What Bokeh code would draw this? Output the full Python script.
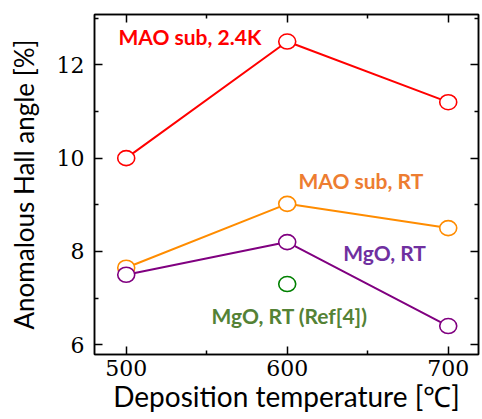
from bokeh.plotting import figure
from bokeh.models import LinearAxis, Range1d, FixedTicker, ColumnDataSource
from bokeh.core.properties import value
from bokeh.embed import file_html
from bokeh.resources import INLINE

# ---- data ----
temps = [500, 600, 700]
mao_24k = [10.0, 12.5, 11.2]
mao_rt = [7.65, 9.02, 8.5]
mgo_rt = [7.5, 8.2, 6.4]
ref4_temp = [600]
ref4_val = [7.3]

labels = ["MAO sub, 2.4K", "MAO sub, RT", "MgO, RT", "MgO, RT (Ref[4])"]
x_ticks = [500, 600, 700]
x_minor = [550, 650]
y_ticks = [6, 8, 10, 12]
y_minor = [7, 9, 11, 13]

p = figure(width=482, height=419, output_backend="svg", toolbar_location=None,
           x_range=Range1d(480.3, 718.8), y_range=Range1d(5.79, 13.08),
           min_border_left=94, min_border_right=4, min_border_top=14, min_border_bottom=65)
p.xgrid.visible = False
p.ygrid.visible = False
p.outline_line_color = "black"
p.outline_line_width = 1.5
p.background_fill_color = "white"
p.border_fill_color = "white"

def style_axis(ax, show_labels):
    ax.axis_line_color = "black"
    ax.axis_line_width = 1.5
    ax.major_tick_in = 8
    ax.major_tick_out = 0
    ax.minor_tick_in = 4
    ax.minor_tick_out = 0
    ax.major_tick_line_width = 1.5
    ax.minor_tick_line_width = 1.5
    if show_labels:
        ax.major_label_text_font = "DejaVu Serif"
        ax.major_label_text_font_size = "22px"
        ax.major_label_text_color = "black"
        ax.axis_label_text_font = "Lato"
        ax.axis_label_text_font_style = "normal"
        ax.axis_label_text_color = "black"

p.xaxis.ticker = FixedTicker(ticks=x_ticks, minor_ticks=x_minor)
p.yaxis.ticker = FixedTicker(ticks=y_ticks, minor_ticks=y_minor)
p.xaxis.axis_label = "Deposition temperature [℃]"
p.yaxis.axis_label = "Anomalous Hall angle [%]"
style_axis(p.xaxis[0], True)
style_axis(p.yaxis[0], True)
p.xaxis.major_label_standoff = 5
p.xaxis.axis_label_standoff = 0
p.xaxis.axis_label_text_font_size = "28px"
p.yaxis.major_label_standoff = 10
p.yaxis.axis_label_standoff = 14
p.yaxis.axis_label_text_font_size = "26px"

top = LinearAxis(ticker=FixedTicker(ticks=x_ticks, minor_ticks=x_minor),
                 major_label_overrides={t: "" for t in x_ticks})
right = LinearAxis(ticker=FixedTicker(ticks=y_ticks, minor_ticks=y_minor),
                   major_label_overrides={t: "" for t in y_ticks})
style_axis(top, False)
style_axis(right, False)
top.major_label_standoff = 0
right.major_label_standoff = 0
p.add_layout(top, "above")
p.add_layout(right, "right")

series = [
    (mao_24k, "#FF0000"),
    (mao_rt, "#FF8C00"),
    (mgo_rt, "#800080"),
]
for vals, col in series:
    src = ColumnDataSource(dict(x=temps, y=vals))
    p.line("x", "y", source=src, line_color=col, line_width=2)
    p.ellipse("x", "y", source=src, width=17, height=15, width_units="screen",
              height_units="screen", fill_color="white", line_color=col, line_width=1.6)

p.ellipse(ref4_temp, ref4_val, width=17, height=15, width_units="screen",
          height_units="screen", fill_color="white", line_color="#008000", line_width=1.6)

# label positions (data coords)
lab_x = [495.2, 607.0, 634.8, 553.0]
lab_y = [12.61, 9.52, 7.97, 6.63]
lab_c = ["#FF0000", "#ED7D31", "#7030A0", "#548235"]
for t, lx, ly, lc in zip(labels, lab_x, lab_y, lab_c):
    p.text([lx], [ly], text=[t], text_color=lc, text_font=value("Lato"),
           text_font_style="bold", text_font_size="21px",
           text_align="left", text_baseline="middle")

open("out.html", "w").write(file_html(p, INLINE))
